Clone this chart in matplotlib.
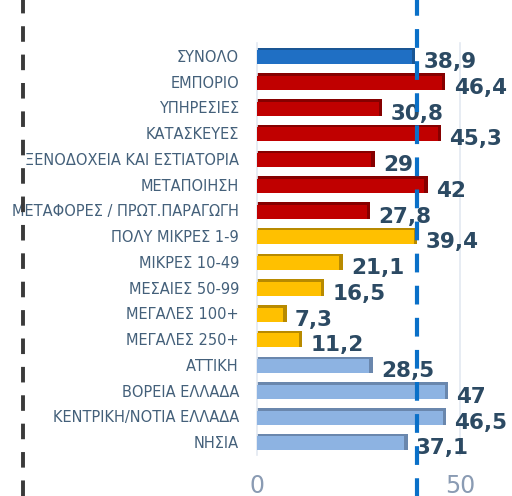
import matplotlib
matplotlib.use("Agg")
import matplotlib.pyplot as plt
from matplotlib.lines import Line2D
import numpy as np

categories = ["ΣΥΝΟΛΟ", "ΕΜΠΟΡΙΟ", "ΥΠΗΡΕΣΙΕΣ", "ΚΑΤΑΣΚΕΥΕΣ",
              "ΞΕΝΟΔΟΧΕΙΑ ΚΑΙ ΕΣΤΙΑΤΟΡΙΑ", "ΜΕΤΑΠΟΙΗΣΗ",
              "ΜΕΤΑΦΟΡΕΣ / ΠΡΩΤ.ΠΑΡΑΓΩΓΗ", "ΠΟΛΥ ΜΙΚΡΕΣ 1-9",
              "ΜΙΚΡΕΣ 10-49", "ΜΕΣΑΙΕΣ 50-99", "ΜΕΓΑΛΕΣ 100+",
              "ΜΕΓΑΛΕΣ 250+", "ΑΤΤΙΚΗ", "ΒΟΡΕΙΑ ΕΛΛΑΔΑ",
              "ΚΕΝΤΡΙΚΗ/ΝΟΤΙΑ ΕΛΛΑΔΑ", "ΝΗΣΙΑ"]
values = [38.9, 46.4, 30.8, 45.3, 29.0, 42.0, 27.8, 39.4,
          21.1, 16.5, 7.3, 11.2, 28.5, 47.0, 46.5, 37.1]
labels = ["38,9", "46,4", "30,8", "45,3", "29", "42", "27,8", "39,4",
          "21,1", "16,5", "7,3", "11,2", "28,5", "47", "46,5", "37,1"]
groups = ["total"] + ["sector"] * 6 + ["size"] * 5 + ["region"] * 4
reference_line = 39.3
xticks = [0, 50]

main_colors = {"total": "#1f6fc4", "sector": "#c00000",
               "size": "#ffc000", "region": "#8db3e2"}
dark_colors = {"total": "#1a5694", "sector": "#860000",
               "size": "#b88a00", "region": "#6a87ad"}

fig = plt.figure(figsize=(5.12, 4.96), dpi=100)
ax = fig.add_axes([257/512, 1 - 455/496, 203/512, 412/496])

y = np.arange(len(categories))
vals = np.array(values)
ax.barh(y, vals, height=0.64, color=[dark_colors[g] for g in groups], zorder=2)
ax.barh(y + 0.05, vals - 0.8, height=0.54, color=[main_colors[g] for g in groups], zorder=3)

for yi, v, lab in zip(y, values, labels):
    ax.annotate(lab, (v, yi), xytext=(6, -4.5), textcoords="offset points",
                ha="left", va="center", fontsize=15.5, fontweight="bold",
                color="#2c4a63", zorder=5, annotation_clip=False)

ax.set_ylim(len(categories) - 0.5, -0.5)
ax.set_xlim(0, 50)
ax.set_yticks(y)
ax.set_yticklabels(categories, fontsize=10.5, color="#44607a")
ax.set_xticks(xticks)
ax.set_xticklabels([str(t) for t in xticks], fontsize=17, color="#8a9bb3")
ax.tick_params(axis="y", length=0, pad=13)
ax.tick_params(axis="x", length=0, pad=14)
for s in ["top", "bottom"]:
    ax.spines[s].set_visible(False)
for s in ["left", "right"]:
    ax.spines[s].set_color("#e3e9f1")
    ax.spines[s].set_linewidth(1.2)

ax.axvline(reference_line, ymin=-0.11, ymax=1.11, clip_on=False,
           color="#0a70c8", lw=3, dashes=(4.5, 3.2), zorder=6)

fig.add_artist(Line2D([23/512, 23/512], [0, 1], transform=fig.transFigure,
                      color="#3a3a3a", lw=2.8, dashes=(4, 3.3)))

fig.savefig("out.png", dpi=100)
